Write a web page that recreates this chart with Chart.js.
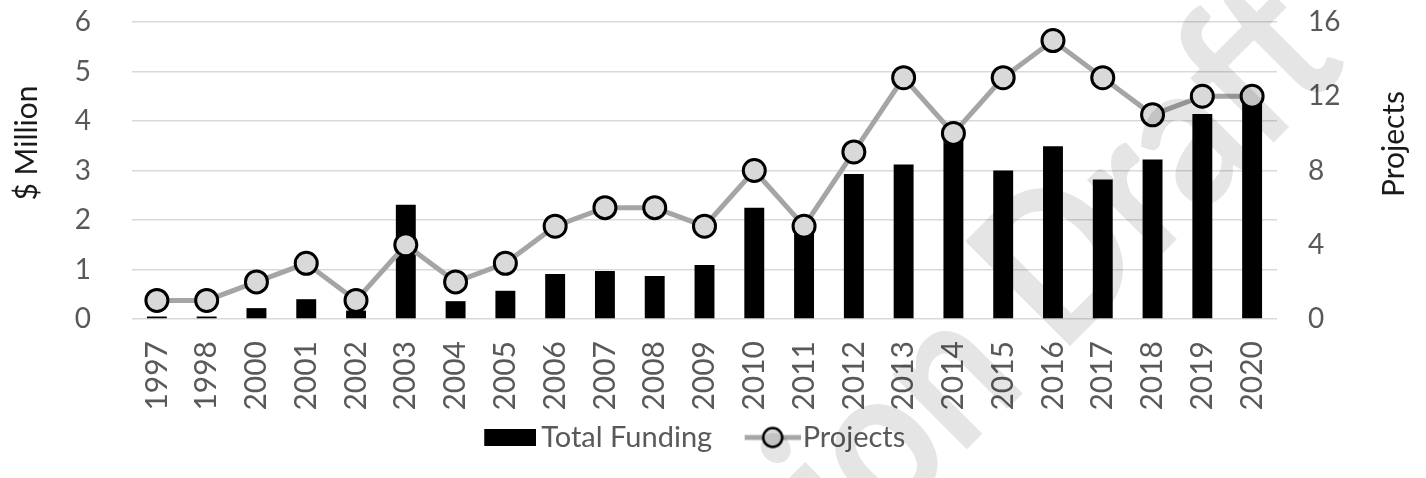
<!DOCTYPE html>
<html>
<head>
<meta charset="utf-8">
<script src="https://cdn.jsdelivr.net/npm/chart.js@4.4.0/dist/chart.umd.min.js"></script>
<style>
  html, body { margin: 0; padding: 0; background: #fff; }
  canvas { display: block; }
</style>
</head>
<body>
<canvas id="chart" width="1426" height="478"></canvas>
<script>
const years = ['1997', '1998', '2000', '2001', '2002', '2003', '2004', '2005', '2006', '2007', '2008', '2009',
  '2010', '2011', '2012', '2013', '2014', '2015', '2016', '2017', '2018', '2019', '2020'];
const funding = [0.05, 0.05, 0.22, 0.4, 0.17, 2.31, 0.36, 0.57, 0.91, 0.97, 0.87, 1.09,
  2.25, 1.8, 2.93, 3.12, 3.8, 3.0, 3.49, 2.82, 3.22, 4.14, 4.5];
const projects = [1, 1, 2, 3, 1, 4, 2, 3, 5, 6, 6, 5, 8, 5, 9, 13, 10, 13, 15, 13, 11, 12, 12];
const leftTicks = [0, 1, 2, 3, 4, 5, 6];
const rightTicks = [0, 4, 8, 12, 16];

const tickGrey = '#595959';
const FONT = 'Lato';
const LEG_SIZE = 29;
const LEG_BOX = 68;

// legend icons: content sits at the right end of the image so it hugs the label text
function makeIcon(contentW, h, gap, draw) {
  const c = document.createElement('canvas');
  c.width = Math.round(LEG_BOX + LEG_SIZE - 2 * gap);
  c.height = h;
  const g = c.getContext('2d');
  g.translate(c.width - contentW, 0);
  draw(g, contentW, h);
  return c;
}
const fundIcon = makeIcon(52, 17, 5, (g, w, h) => {
  g.fillStyle = '#000';
  g.fillRect(0, 0, w, h);
});
const projIcon = makeIcon(56, 26, 2, (g, w, h) => {
  g.strokeStyle = '#a5a5a5';
  g.lineWidth = 5;
  g.beginPath();
  g.moveTo(0, h / 2);
  g.lineTo(w, h / 2);
  g.stroke();
  g.beginPath();
  g.arc(w / 2, h / 2, 9.5, 0, Math.PI * 2);
  g.fillStyle = '#d9d9d9';
  g.fill();
  g.lineWidth = 2.5;
  g.strokeStyle = '#000';
  g.stroke();
});

const axisTitles = {
  id: 'axisTitles',
  afterDraw(chart) {
    const ctx = chart.ctx;
    ctx.save();
    ctx.fillStyle = '#1a1a1a';
    ctx.font = '30px ' + FONT;
    ctx.textAlign = 'center';
    ctx.textBaseline = 'middle';
    [['$ Million', 27, 143], ['Projects', 1394, 144]].forEach(([t, x, y]) => {
      ctx.save();
      ctx.translate(x, y);
      ctx.rotate(-Math.PI / 2);
      ctx.fillText(t, 0, 0);
      ctx.restore();
    });
    ctx.restore();
  }
};

// faint diagonal "draft" stamp, multiplied over the plot
const watermark = {
  id: 'watermark',
  afterDatasetsDraw(chart) {
    const ctx = chart.ctx;
    ctx.save();
    ctx.globalCompositeOperation = 'multiply';
    ctx.fillStyle = '#e5e5e5';
    ctx.font = 'bold 205px ' + FONT;
    ctx.translate(1060, 356);
    ctx.rotate(-Math.PI / 4);
    ctx.scale(0.86, 1);
    ctx.textBaseline = 'alphabetic';
    ctx.textAlign = 'left';
    ctx.fillText('Draft', 0, 0);
    ctx.textAlign = 'right';
    ctx.fillText('Version', -50, 0);
    ctx.restore();
  }
};

new Chart(document.getElementById('chart'), {
  data: {
    labels: years,
    datasets: [
      {
        type: 'line',
        label: 'Projects',
        data: projects,
        yAxisID: 'y2',
        order: 0,
        borderColor: '#a5a5a5',
        borderWidth: 5,
        pointRadius: 11,
        pointBackgroundColor: '#d9d9d9',
        pointBorderColor: '#000',
        pointBorderWidth: 3,
        tension: 0
      },
      {
        type: 'bar',
        label: 'Total Funding',
        data: funding,
        yAxisID: 'y',
        order: 1,
        backgroundColor: '#000',
        categoryPercentage: 0.8,
        barPercentage: 0.5
      }
    ]
  },
  options: {
    responsive: false,
    animation: false,
    layout: { padding: { top: 22, left: 0, right: 62, bottom: 16 } },
    plugins: {
      tooltip: { enabled: false },
      legend: {
        position: 'bottom',
        labels: {
          usePointStyle: true,
          pointStyleWidth: LEG_BOX,
          padding: 8,
          color: tickGrey,
          font: { family: FONT, size: LEG_SIZE },
          generateLabels() {
            return [
              { text: 'Total Funding', pointStyle: fundIcon, fontColor: tickGrey, datasetIndex: 1, lineWidth: 0 },
              { text: 'Projects', pointStyle: projIcon, fontColor: tickGrey, datasetIndex: 0, lineWidth: 0 }
            ];
          }
        }
      }
    },
    scales: {
      x: {
        afterFit(scale) { scale.height = 96; },
        grid: { display: false, drawTicks: false },
        border: { display: false },
        ticks: {
          autoSkip: false,
          minRotation: 90,
          maxRotation: 90,
          padding: 22,
          color: tickGrey,
          font: { family: FONT, size: 30 }
        }
      },
      y: {
        position: 'left',
        min: 0,
        max: 6,
        afterBuildTicks(scale) { scale.ticks = leftTicks.map(v => ({ value: v })); },
        afterFit(scale) { scale.width = 132; },
        grid: { color: '#d9d9d9', lineWidth: 1.5, drawTicks: true, tickLength: 41, tickColor: 'rgba(0,0,0,0)' },
        border: { display: false },
        ticks: { padding: 0, color: tickGrey, font: { family: FONT, size: 28 } }
      },
      y2: {
        position: 'right',
        min: 0,
        max: 16,
        afterBuildTicks(scale) { scale.ticks = rightTicks.map(v => ({ value: v })); },
        afterFit(scale) { scale.width = 87; },
        grid: { color: 'rgba(0,0,0,0)', drawOnChartArea: false, drawTicks: true, tickLength: 31, tickColor: 'rgba(0,0,0,0)' },
        border: { display: false },
        ticks: { padding: 0, color: tickGrey, font: { family: FONT, size: 28 } }
      }
    }
  },
  plugins: [watermark, axisTitles]
});
</script>
</body>
</html>
